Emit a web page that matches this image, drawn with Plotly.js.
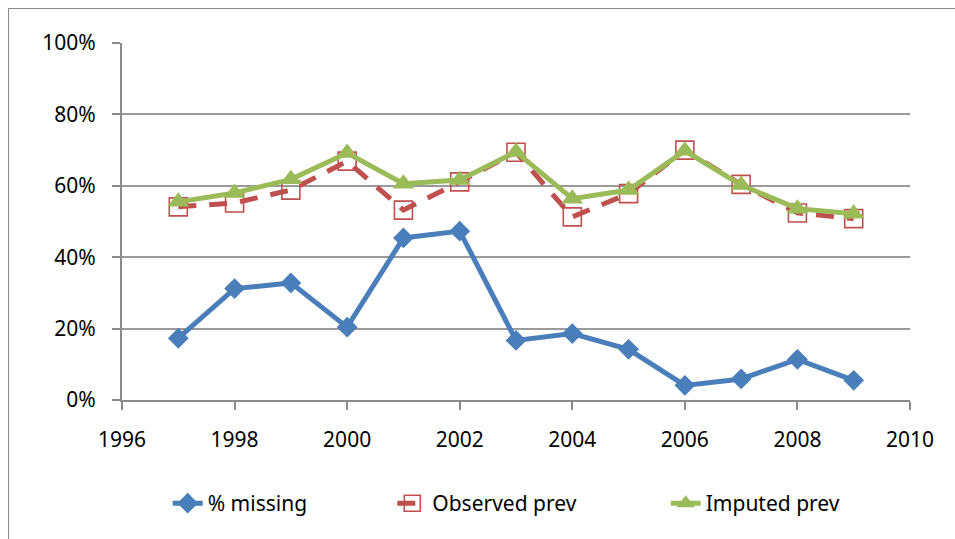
<!DOCTYPE html>
<html>
<head>
<meta charset="utf-8">
<script src="https://cdn.plot.ly/plotly-3.0.1.min.js"></script>
<style>
html,body{margin:0;padding:0;background:#fff;overflow:hidden;}
#wrap{position:relative;width:955px;height:539px;}
#chart{position:absolute;left:0;top:0;width:955px;height:539px;}
#frame{position:absolute;left:8px;top:8px;width:960px;height:560px;border:1.5px solid #8c8c8c;pointer-events:none;}
</style>
</head>
<body>
<div id="wrap">
<div id="chart"></div>
<div id="frame"></div>
</div>
<script>
var years = [1997,1998,1999,2000,2001,2002,2003,2004,2005,2006,2007,2008,2009];
var pctMissing   = [17.3,31.2,32.8,20.4,45.4,47.3,16.7,18.6,14.2,4.1,5.9,11.4,5.5];
var observedPrev = [54.1,55.2,58.8,66.9,53.2,61.1,69.4,51.3,57.8,70.0,60.4,52.4,50.8];
var imputedPrev  = [55.5,58.0,61.8,69.2,60.6,61.6,69.5,56.4,58.8,69.8,60.2,53.6,52.2];
var seriesNames = ['% missing','Observed prev','Imputed prev'];
var yTickVals = [0,20,40,60,80,100];
var yTickText = ['0%','20%','40%','60%','80%','100%'];
var xTickVals = [1996,1998,2000,2002,2004,2006,2008,2010];

var font = {family:'"Noto Sans", "DejaVu Sans", sans-serif', size:21, color:'#000'};

var traces = [
  {x:years, y:pctMissing, name:seriesNames[0], type:'scatter', mode:'lines+markers',
   legend:'legend',
   line:{color:'#4A7EBB', width:5},
   marker:{symbol:'diamond', size:16, color:'#4A7EBB'}},
  {x:years, y:observedPrev, name:seriesNames[1], type:'scatter', mode:'lines+markers',
   legend:'legend2',
   line:{color:'#C0504D', width:5, dash:'18px,13px'},
   marker:{symbol:'square-open', size:18, color:'#C0504D', line:{width:1.6, color:'#C0504D'}}},
  {x:years, y:imputedPrev, name:seriesNames[2], type:'scatter', mode:'lines+markers',
   legend:'legend3',
   line:{color:'#9BBB59', width:5},
   marker:{symbol:'triangle-up', size:19, color:'#9BBB59'}}
];

function leg(x){
  return {orientation:'h', x:x, xanchor:'left', y:-0.29, yanchor:'middle',
          font:font, itemwidth:30, bgcolor:'rgba(0,0,0,0)'};
}

var layout = {
  width:955, height:539,
  margin:{l:122, r:45, t:43, b:139, pad:0},
  paper_bgcolor:'#fff', plot_bgcolor:'#fff',
  font:font,
  showlegend:true,
  legend:leg(0.058),
  legend2:leg(0.343),
  legend3:leg(0.69),
  xaxis:{range:[1996,2010], tickvals:xTickVals, ticktext:xTickVals.map(String),
         showgrid:false, zeroline:false, showline:true, linecolor:'#8a8a8a', linewidth:2,
         ticks:'outside', ticklen:8, tickwidth:2, tickcolor:'#8a8a8a', tickfont:font,
         ticklabelstandoff:12},
  yaxis:{range:[0,100], tickvals:yTickVals, ticktext:yTickText,
         showgrid:true, gridcolor:'#9a9a9a', gridwidth:2, zeroline:false,
         showline:true, linecolor:'#8a8a8a', linewidth:2,
         ticks:'outside', ticklen:8, tickwidth:2, tickcolor:'#8a8a8a', tickfont:font,
         ticklabelstandoff:12}
};

Plotly.newPlot('chart', traces, layout, {displayModeBar:false, staticPlot:true});
</script>
</body>
</html>
